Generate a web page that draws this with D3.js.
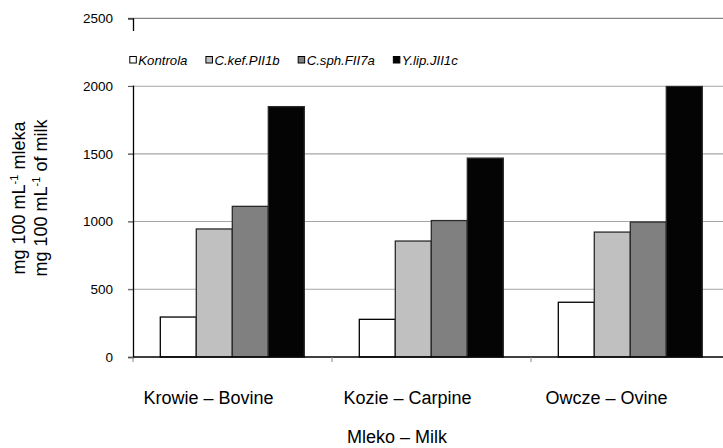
<!DOCTYPE html>
<html><head><meta charset="utf-8">
<script src="https://cdn.jsdelivr.net/npm/d3@7"></script>
<style>body{margin:0;background:#fff}svg{display:block}text{font-family:"Liberation Sans",Arial,sans-serif;fill:#000}</style>
</head><body><svg id="c" width="723" height="448"></svg>
<script>
const categories = ["Krowie – Bovine", "Kozie – Carpine", "Owcze – Ovine"];
const seriesNames = ["Kontrola", "C.kef.PII1b", "C.sph.FII7a", "Y.lip.JII1c"];
const kontrola = [295, 278, 404];
const ckef = [945, 856, 922];
const csph = [1112, 1007, 996];
const ylip = [1848, 1468, 1998];
const yTicks = [0, 500, 1000, 1500, 2000, 2500];
const seriesValues = [kontrola, ckef, csph, ylip];
const colors = ["#ffffff", "#c0c0c0", "#808080", "#040404"];

const svg = d3.select("#c");
const x0 = d3.scaleBand().domain(categories).range([133, 730]).padding(0);
const x1 = d3.scaleBand().domain(seriesNames).range([27.3, 171.3]).padding(0);
const y = d3.scaleLinear().domain([0, 2500]).range([357, 18.3]);

// gridlines
svg.append("g").selectAll("line").data(yTicks.filter(d => d > 0)).join("line")
  .attr("x1", 128).attr("x2", 723).attr("y1", d => y(d)).attr("y2", d => y(d))
  .attr("stroke", (d) => d === 2500 ? "#888" : "#a6a6a6").attr("stroke-width", 1.2);

// y axis
const yAxis = d3.axisLeft(y).tickValues(yTicks).tickSize(5).tickPadding(15).tickFormat(d3.format("d"));
const ga = svg.append("g").attr("transform", "translate(133,0)").call(yAxis);
ga.select(".domain").attr("stroke", "#000").attr("stroke-width", 1.3);
ga.selectAll(".tick line").attr("stroke", "#555");
ga.selectAll(".tick text").attr("font-size", "13.5px").attr("font-family", "Liberation Sans, Arial, sans-serif").attr("fill", "#000");

// bars
const groups = svg.append("g").selectAll("g").data(categories).join("g")
  .attr("transform", d => `translate(${x0(d)},0)`);
groups.selectAll("rect").data((c, i) => seriesNames.map((s, j) => ({s, j, v: seriesValues[j][i]}))).join("rect")
  .attr("x", d => x1(d.s)).attr("width", x1.bandwidth())
  .attr("y", d => y(d.v)).attr("height", d => y(0) - y(d.v))
  .attr("fill", d => colors[d.j]).attr("stroke", d => d.j === 0 ? "#000" : "#2a2a2a").attr("stroke-width", 1.3);

// x axis
svg.append("line").attr("x1", 133).attr("x2", 723).attr("y1", 357).attr("y2", 357).attr("stroke", "#000").attr("stroke-width", 1.3);
svg.append("g").selectAll("line").data(categories).join("line")
  .attr("x1", d => x0(d)).attr("x2", d => x0(d)).attr("y1", 357).attr("y2", 362).attr("stroke", "#888");
svg.append("g").selectAll("text").data(categories).join("text")
  .attr("x", d => x0(d) + x0.bandwidth() / 2 - 24).attr("y", 404)
  .attr("text-anchor", "middle").attr("font-size", "18px").text(d => d);
svg.append("text").attr("x", 397).attr("y", 443).attr("text-anchor", "middle").attr("font-size", "18px").text("Mleko – Milk");

// y title
const yt = svg.append("g").attr("transform", "translate(0,198)");
[["mleka", 24.5], ["of milk", 46.5]].forEach(([w, bx]) => {
  const t = yt.append("text").attr("transform", `translate(${bx},0) rotate(-90)`).attr("text-anchor", "middle").attr("font-size", "18px");
  t.append("tspan").text("mg 100 mL");
  t.append("tspan").attr("font-size", "11px").attr("dy", -7).text("-1");
  t.append("tspan").attr("dy", 7).text(" " + w);
});

// legend
svg.append("rect").attr("x", 118).attr("y", 31).attr("width", 605).attr("height", 54.5).attr("fill", "#fff");
let lx = 129.3;
seriesNames.forEach((s, j) => {
  svg.append("rect").attr("x", lx + 0.5).attr("y", 56.5).attr("width", 6.5).attr("height", 6.5)
    .attr("fill", colors[j]).attr("stroke", "#000").attr("stroke-width", 1);
  const t = svg.append("text").attr("x", lx + 9).attr("y", 64.5).attr("font-size", "13.2px").attr("font-style", "italic").text(s);
  lx = lx + 9 + t.node().getComputedTextLength() + 18;
});
</script></body></html>
